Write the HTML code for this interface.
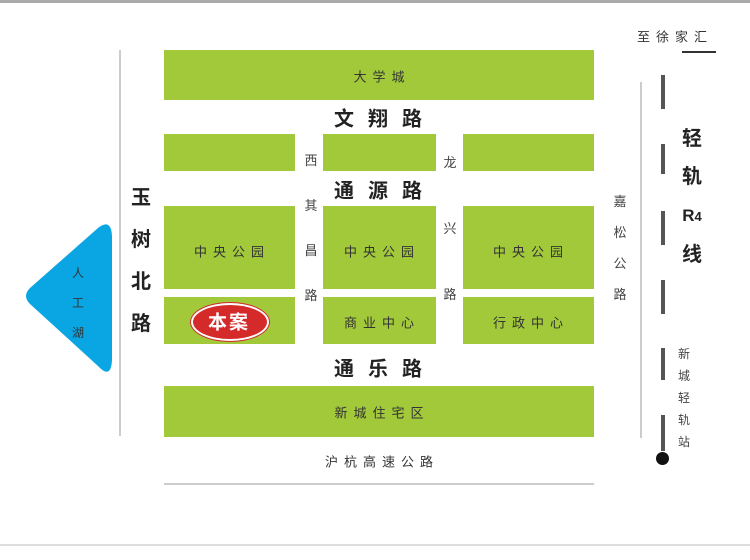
<!DOCTYPE html>
<html><head><meta charset="utf-8"><style>
body{margin:0;width:750px;height:560px;background:#fff;position:relative;overflow:hidden;font-family:"Liberation Sans","Noto Sans CJK SC",sans-serif;}
.g{position:absolute;background:#a2c93a;}
.t{position:absolute;transform:translate(-50%,-50%);white-space:nowrap;color:#333;}
.s{font-size:13px;letter-spacing:6px;color:#333;}
.b{font-size:20px;font-weight:bold;letter-spacing:14px;color:#222;}
.v{position:absolute;width:20px;text-align:center;font-size:13px;color:#444;}
.vb{position:absolute;width:26px;text-align:center;font-size:20px;font-weight:bold;color:#222;}
.l{position:absolute;background:#ccc;}
.d{position:absolute;left:661px;width:4px;background:#555;}
</style></head><body>
<div class="l" style="left:0;top:0;width:750px;height:3px;background:#aaa"></div>
<div class="l" style="left:0;top:544px;width:750px;height:2px;background:#ddd"></div>
<div class="l" style="left:119px;top:50px;width:2px;height:386px"></div>
<div class="l" style="left:640px;top:82px;width:2px;height:356px"></div>
<div class="l" style="left:164px;top:483px;width:430px;height:2px"></div>

<div class="g" style="left:164px;top:50px;width:430px;height:50px"></div>
<div class="g" style="left:164px;top:134px;width:131px;height:37px"></div>
<div class="g" style="left:323px;top:134px;width:113px;height:37px"></div>
<div class="g" style="left:463px;top:134px;width:131px;height:37px"></div>
<div class="g" style="left:164px;top:206px;width:131px;height:83px"></div>
<div class="g" style="left:323px;top:206px;width:113px;height:83px"></div>
<div class="g" style="left:463px;top:206px;width:131px;height:83px"></div>
<div class="g" style="left:164px;top:297px;width:131px;height:47px"></div>
<div class="g" style="left:323px;top:297px;width:113px;height:47px"></div>
<div class="g" style="left:463px;top:297px;width:131px;height:47px"></div>
<div class="g" style="left:164px;top:386px;width:430px;height:51px"></div>

<div class="t s" style="left:382px;top:76px">大学城</div>
<div class="t b" style="left:385px;top:117px">文翔路</div>
<div class="t b" style="left:385px;top:189px">通源路</div>
<div class="t b" style="left:385px;top:367px">通乐路</div>
<div class="t s" style="left:232px;top:251px">中央公园</div>
<div class="t s" style="left:382px;top:251px">中央公园</div>
<div class="t s" style="left:531px;top:251px">中央公园</div>
<div class="t s" style="left:382px;top:322px">商业中心</div>
<div class="t s" style="left:531px;top:322px">行政中心</div>
<div class="t s" style="left:382px;top:412px">新城住宅区</div>
<div class="t s" style="left:382px;top:461px">沪杭高速公路</div>

<div style="position:absolute;left:191px;top:303px;width:74px;height:34px;border-radius:50%;background:#d42a2a;border:2px solid #fff;box-shadow:0 0 0 1px #d42a2a;"></div>
<div class="t" style="left:229px;top:321px;color:#fff;font-weight:bold;font-size:19px;letter-spacing:2px">本案</div>

<div class="vb" style="left:128px;top:177px;line-height:42px">玉<br>树<br>北<br>路</div>
<div class="v" style="left:301px;top:138px;line-height:45px">西<br>其<br>昌<br>路</div>
<div class="v" style="left:440px;top:130px;line-height:66px">龙<br>兴<br>路</div>
<div class="v" style="left:610px;top:186px;line-height:31px">嘉<br>松<br>公<br>路</div>
<div class="vb" style="left:679px;top:120px;line-height:38px">轻<br>轨<br><span style="font-size:17px">R<span style="font-size:13px">4</span></span><br>线</div>
<div class="v" style="left:674px;top:343px;line-height:22px;font-size:12px">新<br>城<br>轻<br>轨<br>站</div>
<div class="t" style="left:675px;top:36px;font-size:13px;letter-spacing:6px">至徐家汇</div>
<div class="l" style="left:682px;top:51px;width:34px;height:2px;background:#333"></div>

<div class="d" style="top:75px;height:34px"></div>
<div class="d" style="top:144px;height:30px"></div>
<div class="d" style="top:211px;height:34px"></div>
<div class="d" style="top:280px;height:34px"></div>
<div class="d" style="top:348px;height:32px"></div>
<div class="d" style="top:415px;height:36px"></div>
<div style="position:absolute;left:656px;top:452px;width:13px;height:13px;border-radius:50%;background:#111"></div>

<svg style="position:absolute;left:0;top:0" width="750" height="560">
<path d="M98,228 Q111,218 112,236 L112,360 Q111,380 98,366 L30,304 Q22,296 30,288 Z" fill="#0aa6e4"/>
</svg>
<div class="v" style="left:68px;top:258px;line-height:30px;font-size:12px;color:#333">人<br>工<br>湖</div>
</body></html>
